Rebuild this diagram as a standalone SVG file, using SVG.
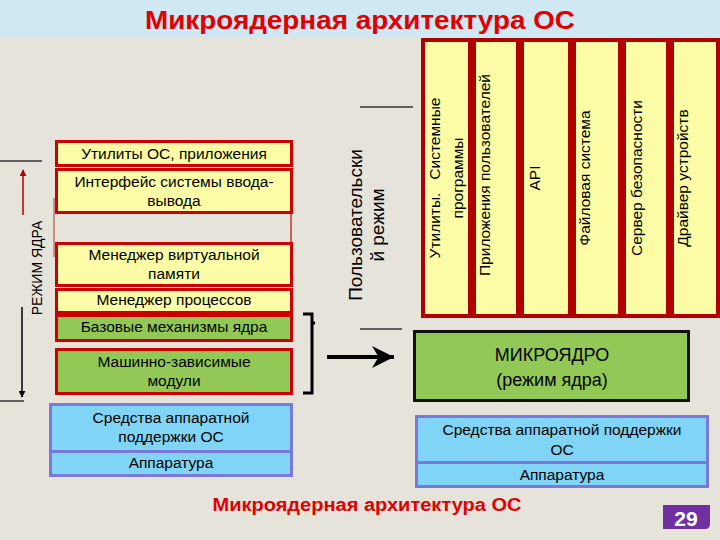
<svg xmlns="http://www.w3.org/2000/svg" width="720" height="540" viewBox="0 0 720 540">
<defs>
<style>
text{font-family:"Liberation Sans",Arial,sans-serif;fill:#000}
.y{fill:#fdfca6;stroke:#cc0000;stroke-width:3}
.g{fill:#92c855;stroke:#cc0000;stroke-width:3}
.b{fill:#80d4f6;stroke:#7b78dc;stroke-width:3}
.c{fill:#fdfca6;stroke:#b00000;stroke-width:4}
.t{font-size:15.5px;text-anchor:middle}
.v{font-size:15.5px;text-anchor:middle}
.ln{stroke:#333;stroke-width:1.5;fill:none}
</style>
<marker id="ah" viewBox="0 0 10 10" refX="9" refY="5" markerWidth="7" markerHeight="7" orient="auto" markerUnits="userSpaceOnUse">
<path d="M0,0 L10,5 L0,10 Z" fill="#000"/>
</marker>
<marker id="big" viewBox="0 0 10 10" refX="10" refY="5" markerWidth="22" markerHeight="22" orient="auto" markerUnits="userSpaceOnUse">
<path d="M0,0 L10,5 L0,10 L3,5 Z" fill="#000"/>
</marker>
<marker id="ahr" viewBox="0 0 10 10" refX="9" refY="5" markerWidth="7" markerHeight="7" orient="auto" markerUnits="userSpaceOnUse">
<path d="M0,0 L10,5 L0,10 Z" fill="#b00000"/>
</marker>
</defs>
<rect x="0" y="0" width="720" height="540" fill="#e5e3da"/>
<rect x="0" y="0" width="720" height="38" fill="#cfe8f4"/>
<text x="360" y="29" font-size="26" font-weight="bold" text-anchor="middle" textLength="430" lengthAdjust="spacingAndGlyphs" style="fill:#e00000">Микроядерная архитектура ОС</text>

<g id="connectors">
<line class="ln" x1="0" y1="161" x2="42" y2="161"/>
<line class="ln" x1="0" y1="401" x2="24" y2="401"/>
<line x1="23" y1="215" x2="23" y2="170" stroke="#b00000" stroke-width="1.5" marker-end="url(#ahr)"/>
<line x1="22" y1="307" x2="22" y2="397" stroke="#000" stroke-width="1.5" marker-end="url(#ah)"/>
<line class="ln" x1="360" y1="107" x2="413" y2="107"/>
<line class="ln" x1="360" y1="329" x2="402" y2="329"/>
<path d="M303,314 H312 V393 H303 M312,323 H315" fill="none" stroke="#000" stroke-width="3"/>
<line x1="327" y1="357" x2="394" y2="357" stroke="#000" stroke-width="4" marker-end="url(#big)"/>
<line x1="54" y1="198" x2="54" y2="257" stroke="#c07070" stroke-width="1.5"/>
<line x1="291" y1="214" x2="291" y2="242" stroke="#cc0000" stroke-width="1.2"/>
</g>

<text transform="translate(42,268) rotate(-90)" font-size="14" text-anchor="middle">РЕЖИМ ЯДРА</text>

<g id="n-util"><rect class="y" x="56.5" y="141.5" width="235" height="24"/><text class="t" x="174" y="159">Утилиты ОС, приложения</text></g>
<g id="n-io"><rect class="y" x="56.5" y="169.5" width="235" height="43"/><text class="t" x="174" y="187">Интерфейс системы ввода-</text><text class="t" x="174" y="206">вывода</text></g>
<g id="n-vm"><rect class="y" x="56.5" y="243.5" width="235" height="42"/><text class="t" x="174" y="260">Менеджер виртуальной</text><text class="t" x="174" y="279">памяти</text></g>
<g id="n-proc"><rect class="y" x="56.5" y="289.5" width="235" height="23"/><text class="t" x="174" y="305">Менеджер процессов</text></g>
<g id="n-base"><rect class="g" x="56.5" y="315.5" width="235" height="25"/><text class="t" x="174" y="332">Базовые механизмы ядра</text></g>
<g id="n-mach"><rect class="g" x="56.5" y="349.5" width="235" height="44"/><text class="t" x="174" y="367">Машинно-зависимые</text><text class="t" x="174" y="386">модули</text></g>
<g id="n-hwsup"><rect class="b" x="50.5" y="404.5" width="241" height="47"/><text class="t" x="171" y="423">Средства аппаратной</text><text class="t" x="171" y="442">поддержки ОС</text></g>
<g id="n-hw"><rect class="b" x="50.5" y="451.5" width="241" height="24"/><text class="t" x="171" y="468">Аппаратура</text></g>

<text transform="translate(362,225) rotate(-90)" font-size="19" text-anchor="middle"><tspan x="0" y="0">Пользовательски</tspan><tspan x="0" y="22">й режим</tspan></text>

<g id="c1"><rect class="c" x="423" y="40" width="47" height="276"/><text transform="translate(440,178) rotate(-90)" class="v"><tspan x="0" y="0" xml:space="preserve">Утилиты.   Системные</tspan><tspan x="0" y="23">программы</tspan></text></g>
<g id="c2"><rect class="c" x="474" y="40" width="44" height="276"/><text transform="translate(490,175) rotate(-90)" class="v">Приложения пользователей</text></g>
<g id="c3"><rect class="c" x="522" y="40" width="48" height="276"/><text transform="translate(540,178) rotate(-90)" class="v">API</text></g>
<g id="c4"><rect class="c" x="574" y="40" width="46" height="276"/><text transform="translate(590,178) rotate(-90)" class="v">Файловая система</text></g>
<g id="c5"><rect class="c" x="624" y="40" width="44" height="276"/><text transform="translate(642,178) rotate(-90)" class="v">Сервер безопасности</text></g>
<g id="c6"><rect class="c" x="672" y="40" width="46" height="276"/><text transform="translate(688,178) rotate(-90)" class="v">Драйвер устройств</text></g>

<g id="n-micro"><rect x="414.5" y="331.5" width="274" height="69" fill="#92c855" stroke="#111" stroke-width="3"/><text x="552" y="361" font-size="18" text-anchor="middle">МИКРОЯДРО</text><text x="552" y="386" font-size="18" text-anchor="middle">(режим ядра)</text></g>
<g id="n-hwsup2"><rect class="b" x="416.5" y="416.5" width="291" height="46"/><text class="t" x="562" y="435">Средства аппаратной поддержки</text><text class="t" x="562" y="455">ОС</text></g>
<g id="n-hw2"><rect class="b" x="416.5" y="462.5" width="291" height="24"/><text class="t" x="562" y="480">Аппаратура</text></g>

<text x="367" y="511" font-size="18" font-weight="bold" text-anchor="middle" textLength="309" lengthAdjust="spacingAndGlyphs" style="fill:#e00000">Микроядерная архитектура ОС</text>
<g id="badge"><path d="M663,505 H710 V524 Q710,529 705,529 H663 Z" fill="#7030a0"/><text x="686" y="526" font-size="21" font-weight="bold" text-anchor="middle" style="fill:#fff">29</text></g>
</svg>
